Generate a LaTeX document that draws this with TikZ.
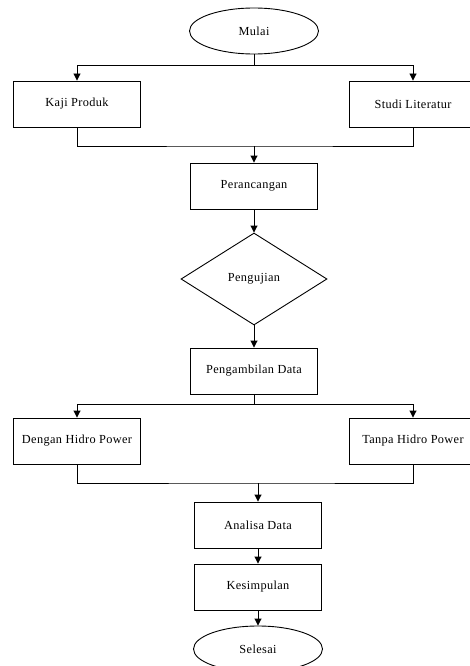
\documentclass[tikz,border=0pt]{standalone}
\usepackage{fontspec}
\setmainfont{Liberation Serif}[LetterSpace=3]
\usetikzlibrary{arrows.meta, shapes.geometric, calc}

\begin{document}
\begin{tikzpicture}[x=1pt, y=-1pt,
    every node/.style={font=\fontsize{12.3}{14}\selectfont, line width=0.9pt},
    terminal/.style={draw, ellipse, minimum width=129pt, minimum height=46pt, inner sep=0pt},
    proses/.style={draw, rectangle, minimum width=127pt, minimum height=46pt, inner sep=0pt},
    keputusan/.style={draw, diamond, aspect=1.59, minimum width=146pt, minimum height=92pt, inner sep=0pt},
    garis/.style={line width=0.9pt},
    panah/.style={garis, -{Triangle[length=7pt, width=7pt]}}]
    \useasboundingbox (0,0) rectangle (469,666);

    \node[terminal] (mulai) at (254,31) {Mulai};
    \node[proses] (kaji) at (77,104) {Kaji Produk};
    \node[proses] (studi) at (413,104) {Studi Literatur};
    \node[proses] (rancang) at (254,186) {Perancangan};
    \node[keputusan] (uji) at (254,279) {Pengujian};
    \node[proses] (ambil) at (254,371) {Pengambilan Data};
    \node[proses] (dengan) at (77,441) {Dengan Hidro Power};
    \node[proses] (tanpa) at (413,441) {Tanpa Hidro Power};
    \node[proses] (analisa) at (258,525) {Analisa Data};
    \node[proses] (simpul) at (258,587) {Kesimpulan};
    \node[terminal] (selesai) at (258,649) {Selesai};

    \coordinate (c1) at (254,65);
    \coordinate (c2) at (254,146);
    \coordinate (c3) at (254,404);
    \coordinate (c4) at (258,483);

    \draw[garis] (mulai.south) -- (c1);
    \draw[panah] (c1) -| (kaji.north);
    \draw[panah] (c1) -| (studi.north);
    \draw[garis] (kaji.south) |- (c2) -| (studi.south);
    \draw[panah] (c2) -- (rancang.north);
    \draw[panah] (rancang.south) -- (uji.north);
    \draw[panah] (uji.south) -- (ambil.north);
    \draw[garis] (ambil.south) -- (c3);
    \draw[panah] (c3) -| (dengan.north);
    \draw[panah] (c3) -| (tanpa.north);
    \draw[garis] (dengan.south) |- (c4) -| (tanpa.south);
    \draw[panah] (c4) -- (analisa.north);
    \draw[panah] (analisa.south) -- (simpul.north);
    \draw[panah] (simpul.south) -- (selesai.north);
\end{tikzpicture}
\end{document}
